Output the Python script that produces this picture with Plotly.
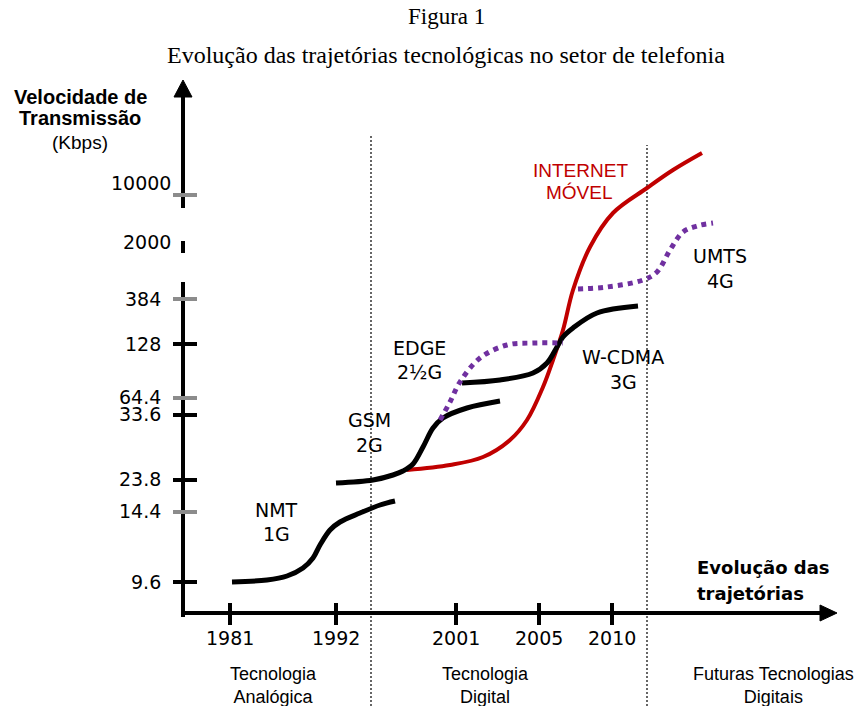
import plotly.graph_objects as go

# ---------------- data (schematic units: x = position along timeline, y = speed level) -------------
X_TICK_POS = [47, 153, 273, 356, 429]
X_TICK_LABELS = ["1981", "1992", "2001", "2005", "2010"]

Y_TICK_LEVELS = [418, 314, 269, 215, 198, 133, 101, 31]
Y_TICK_GRAY = [True, True, False, True, False, False, True, False]

Y_LABELS = ["10000", "2000", "384", "128", "64.4", "33.6", "23.8", "14.4", "9.6"]
Y_LABEL_LEVELS = [430, 371, 314, 269, 216, 199, 134, 102, 31]

ERA_BOUNDARIES = [188, 464]
ERA_LABELS = ["Tecnologia<br>Analógica", "Tecnologia<br>Digital", "Futuras Tecnologias<br>Digitais"]
ERA_LABEL_POS = [90, 302, 590]

nmt_x = [49, 84, 104, 120, 130, 137, 147, 157, 177, 197, 212]
nmt_y = [31, 33, 37, 45, 55, 68, 83, 91, 100, 108, 112]

gsm_x = [153, 190, 210, 220, 230, 240, 250, 260, 284, 317]
gsm_y = [130, 133, 138, 142, 149, 166, 185, 195, 205, 212]

edge_x = [257, 267, 277, 297, 324, 350, 380]
edge_y = [193, 211, 231, 255, 268, 270, 270]

wcdma_x = [279, 317, 350, 364, 374, 380, 390, 414, 455]
wcdma_y = [230, 233, 240, 250, 266, 276, 285, 300, 307]

umts_x = [395, 424, 460, 474, 487, 500, 514, 530]
umts_y = [324, 326, 333, 341, 363, 381, 387, 390]

inet_x = [224, 267, 300, 327, 344, 360, 370, 380, 390, 407, 430, 464, 490, 519]
inet_y = [143, 148, 156, 173, 193, 226, 253, 283, 323, 366, 400, 425, 443, 460]

BLACK = "#000000"
GRAY = "#8c8c8c"
RED = "#C00000"
PURPLE = "#7030A0"

fig = go.Figure()


def line(xs, ys, color, width, dash="solid", shape="linear"):
    fig.add_trace(go.Scatter(x=xs, y=ys, mode="lines", hoverinfo="skip", showlegend=False,
                             line=dict(color=color, width=width, dash=dash, shape=shape, smoothing=1.0)))


def tri(xs, ys):
    fig.add_trace(go.Scatter(x=xs, y=ys, mode="lines", fill="toself", fillcolor=BLACK,
                             line=dict(color=BLACK, width=1), hoverinfo="skip", showlegend=False))


# era boundaries (dotted)
for xb, top in zip(ERA_BOUNDARIES, [478, 468]):
    line([xb, xb], [-93, top], BLACK, 1.2, dash="2px,2px")

# y axis (broken)
line([0, 0], [-4, 331], BLACK, 4)
line([0, 0], [360, 372], BLACK, 4)
line([0, 0], [405, 520], BLACK, 4)
tri([-9, 9, 0, -9], [516, 516, 533, 516])

# x axis
line([0, 637], [0, 0], BLACK, 4)
tri([637, 637, 654, 637], [-8, 8, 0, -8])

# y ticks
for lv, g in zip(Y_TICK_LEVELS, Y_TICK_GRAY):
    line([-10, 14], [lv, lv], GRAY if g else BLACK, 4)

# x ticks
for xp in X_TICK_POS:
    line([xp, xp], [-12, 10], BLACK, 4)

# curves
line(inet_x, inet_y, RED, 4, shape="spline")
line(nmt_x, nmt_y, BLACK, 5, shape="spline")
line(gsm_x, gsm_y, BLACK, 5, shape="spline")
line(wcdma_x, wcdma_y, BLACK, 5, shape="spline")
line(edge_x, edge_y, PURPLE, 5, dash="dot", shape="spline")
line(umts_x, umts_y, PURPLE, 5, dash="dot", shape="spline")

ann = []
DV = "DejaVu Sans"
LS = "Liberation Sans"
SERIF = "Liberation Serif"


def text(x, y, t, size, family, color=BLACK, xanchor="center", bold=False):
    if bold:
        t = "<b>" + t + "</b>"
    ann.append(dict(x=x, y=y, xref="x", yref="y", text=t, showarrow=False, xanchor=xanchor,
                    yanchor="middle", font=dict(size=size, family=family, color=color)))


# y labels
for i, (lab, lv) in enumerate(zip(Y_LABELS, Y_LABEL_LEVELS)):
    xr = -10 if i < 2 else -20
    text(xr, lv, lab, 19, DV, xanchor="right")

# x labels
for xp, lab in zip(X_TICK_POS, X_TICK_LABELS):
    text(xp, -25, lab, 19, DV)

# era labels
for xp, lab in zip(ERA_LABEL_POS, ERA_LABELS):
    ann.append(dict(x=xp, y=-72, xref="x", yref="y", text=lab, showarrow=False, xanchor="center",
                    yanchor="middle", font=dict(size=18, family=LS, color=BLACK)))

# axis titles
text(-103, 516, "Velocidade de", 20, LS, bold=True)
text(-103, 495, "Transmissão", 20, LS, bold=True)
text(-103, 471, "(Kbps)", 19, LS)
text(512, 46, "Evolução das", 18, DV, xanchor="left", bold=True)
text(512, 20, "trajetórias", 18, DV, xanchor="left", bold=True)

# technology labels
for (x, y1, y2, l1, l2) in [(93, 103, 79, "NMT", "1G"), (186, 193, 168, "GSM", "2G"),
                            (236, 265, 241, "EDGE", "2½G"), (440, 256, 231, "W-CDMA", "3G"),
                            (537, 357, 332, "UMTS", "4G")]:
    text(x, y1, l1, 19, DV)
    text(x, y2, l2, 19, DV)
text(397, 443, "INTERNET", 19, LS, color=RED)
text(396, 421, "MÓVEL", 19, LS, color=RED)

# title
text(263, 597, "Figura 1", 23, SERIF)
text(263, 558, "Evolução das trajetórias tecnológicas no setor de telefonia", 24, SERIF)

fig.update_layout(
    width=860, height=706, margin=dict(l=0, r=0, t=0, b=0),
    paper_bgcolor="white", plot_bgcolor="white",
    xaxis=dict(range=[-183, 677], visible=False, fixedrange=True),
    yaxis=dict(range=[-93, 613], visible=False, fixedrange=True),
    annotations=ann, showlegend=False,
)

fig.write_html("out.html", config={"displayModeBar": False},
               post_script="document.body.style.margin='0px';")
